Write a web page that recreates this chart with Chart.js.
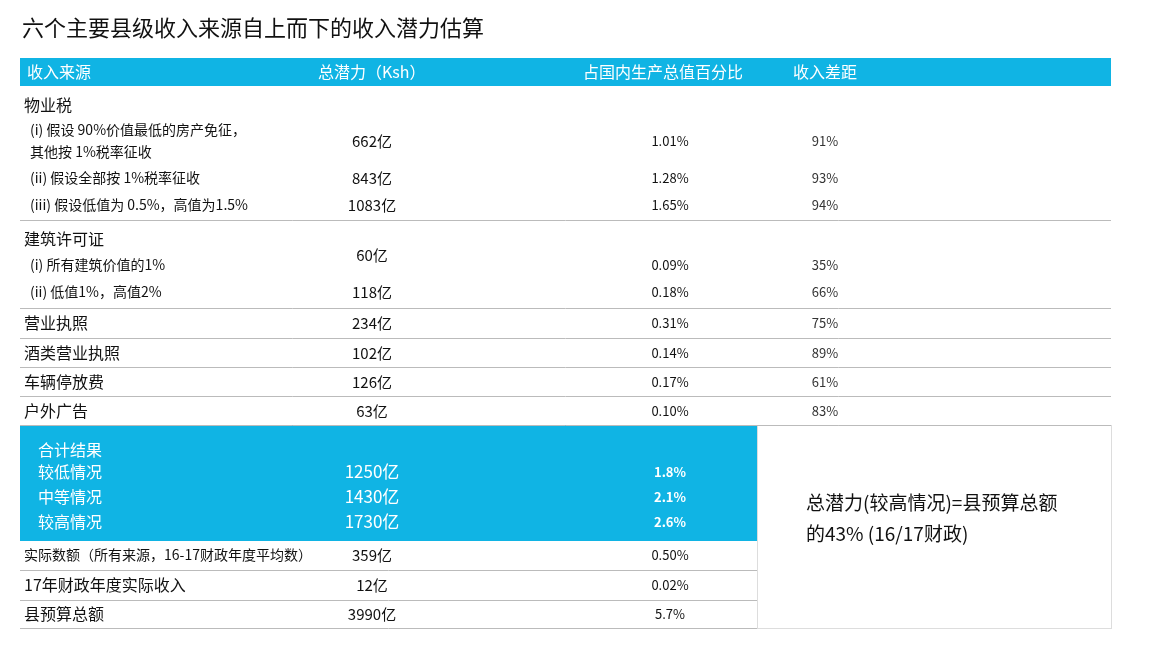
<!DOCTYPE html>
<html lang="zh">
<head>
<meta charset="UTF-8">
<title>收入潜力估算</title>
<script src="https://cdn.jsdelivr.net/npm/chart.js"></script>
<style>
    body { margin: 0; background: #fff; }
</style>
</head>
<body>
<canvas id="tbl" width="1151" height="653"></canvas>
<script>
const title = '六个主要县级收入来源自上而下的收入潜力估算';
const headers = ['收入来源', '总潜力（Ksh）', '占国内生产总值百分比', '收入差距'];

// table rows
const labels = ['物业税', '(i) 假设 90%价值最低的房产免征，\n其他按 1%税率征收', '(ii) 假设全部按 1%税率征收', '(iii) 假设低值为 0.5%，高值为1.5%',
    '建筑许可证', '(i) 所有建筑价值的1%', '(ii) 低值1%，高值2%',
    '营业执照', '酒类营业执照', '车辆停放费', '户外广告',
    '合计结果', '较低情况', '中等情况', '较高情况',
    '实际数额（所有来源，16-17财政年度平均数）', '17年财政年度实际收入', '县预算总额'];
const potential = ['', '662亿', '843亿', '1083亿', '', '60亿', '118亿', '234亿', '102亿', '126亿', '63亿',
    '', '1250亿', '1430亿', '1730亿', '359亿', '12亿', '3990亿'];
const gdpShare = ['', '1.01%', '1.28%', '1.65%', '', '0.09%', '0.18%', '0.31%', '0.14%', '0.17%', '0.10%',
    '', '1.8%', '2.1%', '2.6%', '0.50%', '0.02%', '5.7%'];
const gap = ['', '91%', '93%', '94%', '', '35%', '66%', '75%', '89%', '61%', '83%',
    '', '', '', '', '', '', ''];
const note = ['总潜力(较高情况)=县预算总额', '的43% (16/17财政)'];

// layout (row centre on the page's y scale, kind)
const rowY = [105, 141, 178, 205, 239, 265, 292, 323, 353, 382, 411, 450, 472, 497, 522, 555, 585, 614];
const valY = [105, 141, 178, 205, 239, 255, 292, 323, 353, 382, 411, 450, 472, 497, 522, 555, 585, 614];
const kind = ['h', 's', 's', 's', 'h', 's', 's', 'h', 'h', 'h', 'h', 'b', 'b', 'b', 'b', 'f', 'h', 'h'];
const rules = [220, 308, 338, 367, 396, 425, 570, 600, 628];
const CJK = '"Noto Sans CJK SC", "Noto Sans", sans-serif';
const BLUE = '#10b4e4';

const tablePlugin = {
    id: 'table',
    afterDraw(chart) {
        const ctx = chart.ctx, sx = chart.scales.x, sy = chart.scales.y;
        const X = v => sx.getPixelForValue(v), Y = v => sy.getPixelForValue(v);
        ctx.save();
        ctx.textBaseline = 'middle';
        // title
        ctx.fillStyle = '#111';
        ctx.font = '22px ' + CJK;
        ctx.fillText(title, X(22), Y(28));
        // header bar
        ctx.fillStyle = BLUE;
        ctx.fillRect(X(20), Y(58), X(1111) - X(20), Y(86) - Y(58));
        ctx.fillStyle = '#fff';
        ctx.font = '16px ' + CJK;
        [27, 318, 583, 793].forEach((x, i) => ctx.fillText(headers[i], X(x), Y(72)));
        // totals box
        ctx.fillStyle = BLUE;
        ctx.fillRect(X(20), Y(425), X(757) - X(20), Y(541) - Y(425));
        // right note box
        ctx.strokeStyle = '#ddd';
        ctx.lineWidth = 1;
        ctx.strokeRect(X(757) + 0.5, Y(425) + 0.5, X(1111) - X(757), Y(628) - Y(425));
        // rules
        ctx.strokeStyle = '#bbb';
        rules.forEach(r => {
            const right = r > 425 ? 757 : 1111;
            ctx.beginPath();
            ctx.moveTo(X(20), Y(r) + 0.5);
            ctx.lineTo(X(right), Y(r) + 0.5);
            ctx.stroke();
        });
        // rows
        labels.forEach((lab, i) => {
            const k = kind[i];
            const white = k === 'b';
            ctx.fillStyle = white ? '#fff' : '#111';
            ctx.textAlign = 'left';
            ctx.font = (k === 's' ? '14px ' : k === 'f' ? '14px ' : '16px ') + CJK;
            const lx = k === 's' ? 30 : k === 'b' ? 38 : 24;
            const lines = lab.split('\n');
            lines.forEach((ln, j) => {
                const off = lines.length > 1 ? (j - 0.5) * 22 : 0;
                ctx.fillText(ln, X(lx), Y(rowY[i] + off));
            });
            ctx.textAlign = 'center';
            ctx.font = (white ? '17px ' : '15px ') + CJK;
            if (potential[i]) ctx.fillText(potential[i], X(372), Y(valY[i]));
            ctx.font = (white ? 'bold 13px ' : '13px ') + CJK;
            if (gdpShare[i]) ctx.fillText(gdpShare[i], X(670), Y(rowY[i] + (k === 's' && i > 4 ? 0 : 0)));
            ctx.fillStyle = '#333';
            if (gap[i]) ctx.fillText(gap[i], X(825), Y(rowY[i]));
        });
        // note
        ctx.textAlign = 'left';
        ctx.fillStyle = '#111';
        ctx.font = '19px ' + CJK;
        ctx.fillText(note[0], X(806), Y(503));
        ctx.fillText(note[1], X(806), Y(534));
        ctx.restore();
    }
};

new Chart(document.getElementById('tbl').getContext('2d'), {
    type: 'scatter',
    data: { datasets: [{ data: [] }] },
    options: {
        responsive: false,
        animation: false,
        devicePixelRatio: 1,
        layout: { padding: 0 },
        plugins: { legend: { display: false }, tooltip: { enabled: false } },
        scales: {
            x: { type: 'linear', min: 0, max: 1151, display: false },
            y: { type: 'linear', min: 0, max: 653, reverse: true, display: false }
        }
    },
    plugins: [tablePlugin]
});
</script>
</body>
</html>
